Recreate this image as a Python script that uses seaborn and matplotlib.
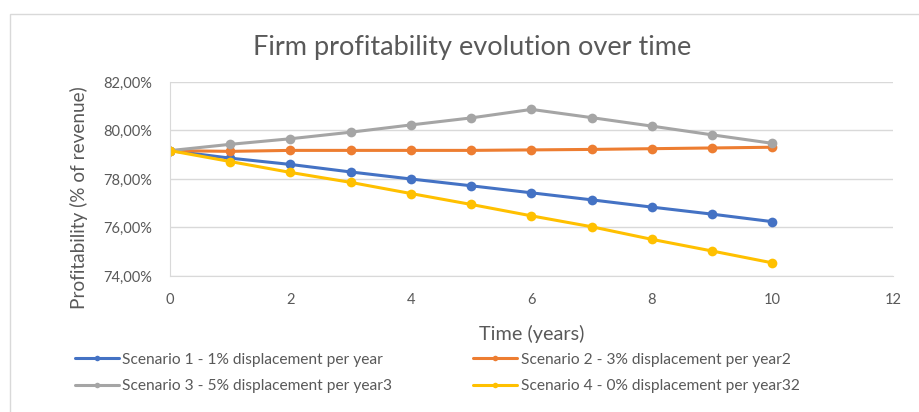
import pandas as pd
import matplotlib.pyplot as plt
import seaborn as sns
from matplotlib.ticker import FuncFormatter, MultipleLocator
from matplotlib.patches import Rectangle

years = list(range(11))
scenario_1 = [79.17, 78.86, 78.60, 78.29, 78.00, 77.72, 77.43, 77.14, 76.84, 76.55, 76.24]
scenario_2 = [79.17, 79.14, 79.18, 79.18, 79.18, 79.18, 79.20, 79.22, 79.25, 79.28, 79.31]
scenario_3 = [79.17, 79.43, 79.66, 79.93, 80.23, 80.52, 80.87, 80.53, 80.18, 79.82, 79.47]
scenario_4 = [79.17, 78.72, 78.27, 77.86, 77.40, 76.95, 76.48, 76.03, 75.51, 75.03, 74.54]

labels = ['Scenario 1 - 1% displacement per year',
          'Scenario 2 - 3% displacement per year2',
          'Scenario 3 - 5% displacement per year3',
          'Scenario 4 - 0% displacement per year32']
colors = ['#4472C4', '#ED7D31', '#A5A5A5', '#FFC000']

df = pd.DataFrame({'year': years * 4,
                   'profit': scenario_1 + scenario_2 + scenario_3 + scenario_4,
                   'scenario': [l for l in labels for _ in years]})

sns.set_style('white')
plt.rcParams['font.family'] = ['Lato', 'DejaVu Sans']

fig = plt.figure(figsize=(9.2, 4.12), dpi=100)
ax = fig.add_axes([170 / 920, 1 - 276 / 412, (893 - 170) / 920, (276 - 82) / 412])

sns.lineplot(data=df, x='year', y='profit', hue='scenario', palette=colors,
             marker='o', markersize=7, markeredgewidth=0, linewidth=2.2, ax=ax)

ax.set_xlim(0, 12)
ax.set_ylim(74, 82)
ax.xaxis.set_major_locator(MultipleLocator(2))
ax.yaxis.set_major_locator(MultipleLocator(2))
ax.yaxis.set_major_formatter(FuncFormatter(lambda v, p: f'{v:.2f}'.replace('.', ',') + '%'))
ax.grid(axis='y', color='#d9d9d9', linewidth=1)
ax.set_axisbelow(True)
for s in ['top', 'right']:
    ax.spines[s].set_visible(False)
for s in ['left', 'bottom']:
    ax.spines[s].set_color('#d9d9d9')
ax.tick_params(length=0, labelsize=10.5, colors='#595959')
ax.tick_params(axis='y', pad=13)
ax.tick_params(axis='x', pad=12)

ax.set_xlabel('Time (years)', fontsize=14.3, color='#595959', labelpad=13.5)
ax.set_ylabel('Profitability (% of revenue)', fontsize=13.7, color='#595959')
ax.yaxis.set_label_coords(-(170 - 88) / 723, (276 - 198) / 194)
fig.text(472 / 920, 1 - 48 / 412, 'Firm profitability evolution over time', fontsize=19.5,
         color='#595959', ha='center', va='center')

handles, _ = ax.get_legend_handles_labels()
for h in handles:
    h.set_markersize(4)
order = [0, 2, 1, 3]
ax.legend([handles[i] for i in order], [labels[i] for i in order], ncol=2,
          frameon=False, fontsize=11.2, labelcolor='#595959',
          loc='center left', bbox_to_anchor=(-103 / 723, -(373 - 276) / 194),
          handlelength=2.85, handletextpad=0.2, columnspacing=5.2, labelspacing=0.78,
          borderpad=0)

fig.patches.append(Rectangle((10 / 920, -0.1), 1.0, 1 - 14 / 412 + 0.1,
                             transform=fig.transFigure, fill=False,
                             edgecolor='#d9d9d9', linewidth=1))

fig.savefig('out.png', dpi=100)
